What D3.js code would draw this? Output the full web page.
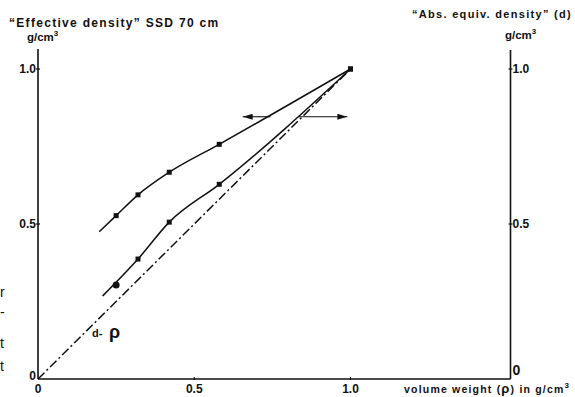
<!DOCTYPE html>
<html>
<head>
<meta charset="utf-8">
<script src="https://cdn.jsdelivr.net/npm/d3@7"></script>
<style>
  body { margin: 0; background: #fff; }
  svg { display: block; }
  text { font-family: "Liberation Sans", Arial, sans-serif; fill: #111; }
</style>
</head>
<body>
<div id="root"></div>
<script>
const w = 575;
const h = 397;

// volume weight (rho), g/cm3
const volumeWeight = [0.25, 0.32, 0.42, 0.58, 1.0];
// "Effective density" SSD 70 cm
const effectiveDensity = [0.527, 0.594, 0.667, 0.757, 1.0];
// "Abs. equiv. density" (d)
const absEquivDensity = [0.303, 0.387, 0.506, 0.628, 1.0];
// where each drawn curve begins (below the first point)
const effectiveStart = [0.196, 0.475];
const absEquivStart = [0.207, 0.268];
// d = rho reference line
const identityLine = [[0, 0], [1, 1]];
// arrows pointing to the two axes
const arrowLevel = 0.846;
const arrowLeft = [0.744, 0.655];
const arrowRight = [0.834, 0.99];

const xTicks = [0, 0.5, 1.0];
const yTicks = [0, 0.5, 1.0];

const x0 = 38, x1 = 350.5;
const yBottom = 379, yTop = 69;
const rightAxisX = 510.5;

const svg = d3.select("#root").append("svg").attr("width", w).attr("height", h);

const xScale = d3.scaleLinear().domain([0, 1]).range([x0, x1]);
const yScale = d3.scaleLinear().domain([0, 1]).range([yBottom, yTop]);

const ink = "#111";

// axes lines
svg.append("line")
  .attr("x1", x0).attr("x2", rightAxisX)
  .attr("y1", yBottom).attr("y2", yBottom)
  .attr("stroke", ink).attr("stroke-width", 1.6);
svg.append("line")
  .attr("x1", x0).attr("x2", x0)
  .attr("y1", 49).attr("y2", yBottom)
  .attr("stroke", ink).attr("stroke-width", 1.6);
svg.append("line")
  .attr("x1", rightAxisX).attr("x2", rightAxisX)
  .attr("y1", 50).attr("y2", yBottom)
  .attr("stroke", ink).attr("stroke-width", 1.6);

// ticks
const tickG = svg.append("g").attr("stroke", ink).attr("stroke-width", 1.2);
xTicks.slice(1).forEach((t) => {
  tickG.append("line")
    .attr("x1", xScale(t)).attr("x2", xScale(t))
    .attr("y1", yBottom - 2).attr("y2", yBottom + 1);
});
yTicks.slice(1).forEach((t) => {
  tickG.append("line")
    .attr("x1", x0 - 2).attr("x2", x0 + 2)
    .attr("y1", yScale(t)).attr("y2", yScale(t));
  tickG.append("line")
    .attr("x1", rightAxisX - 2).attr("x2", rightAxisX + 2)
    .attr("y1", yScale(t)).attr("y2", yScale(t));
});

// tick labels
const fmt = (d) => (d === 0 ? "0" : d3.format(".1f")(d));
svg.append("g").selectAll("text")
  .data(xTicks)
  .join("text")
  .attr("x", (d) => xScale(d))
  .attr("y", yBottom + 14)
  .attr("text-anchor", "middle")
  .attr("font-size", 12)
  .attr("font-weight", "bold")
  .text(fmt);

svg.append("g").selectAll("text")
  .data(yTicks)
  .join("text")
  .attr("x", x0 - 2)
  .attr("y", (d) => (d === 0 ? yScale(d) + 1 : yScale(d) + 4))
  .attr("text-anchor", "end")
  .attr("font-size", 12)
  .attr("font-weight", "bold")
  .text(fmt);

svg.append("g").selectAll("text")
  .data(yTicks)
  .join("text")
  .attr("x", rightAxisX + 2)
  .attr("y", (d) => (d === 0 ? yScale(d) - 4 : yScale(d) + 4))
  .attr("font-size", (d) => (d === 0 ? 14 : 12))
  .attr("font-weight", "bold")
  .text(fmt);

// titles
svg.append("text")
  .attr("x", 9).attr("y", 27)
  .attr("font-size", 12).attr("font-weight", "bold")
  .attr("letter-spacing", 1.3)
  .text("\u201CEffective density\u201D SSD 70 cm");
svg.append("text")
  .attr("x", 27).attr("y", 41)
  .attr("font-size", 11.5).attr("font-weight", "bold")
  .html('g/cm<tspan dy="-5" font-size="8">3</tspan>');

svg.append("text")
  .attr("x", 412).attr("y", 18)
  .attr("font-size", 11).attr("font-weight", "bold")
  .attr("letter-spacing", 1.3)
  .text("\u201CAbs. equiv. density\u201D (d)");
svg.append("text")
  .attr("x", 505).attr("y", 39)
  .attr("font-size", 11.5).attr("font-weight", "bold")
  .html('g/cm<tspan dy="-5" font-size="8">3</tspan>');

svg.append("text")
  .attr("x", 404).attr("y", 393)
  .attr("font-size", 10.5).attr("font-weight", "bold")
  .attr("letter-spacing", 1.2)
  .html('volume weight (<tspan font-size="13">\u03C1</tspan>) in g/cm<tspan dy="-5" font-size="8">3</tspan>');

// identity line d = rho
const line = d3.line().x((d) => xScale(d[0])).y((d) => yScale(d[1]));
svg.append("path")
  .attr("d", line(identityLine))
  .attr("fill", "none")
  .attr("stroke", ink)
  .attr("stroke-width", 1.5)
  .attr("stroke-dasharray", "9,3,2,3");

svg.append("text")
  .attr("x", 92).attr("y", 337)
  .attr("font-size", 11).attr("font-weight", "bold")
  .text("d-");
svg.append("text")
  .attr("x", 109).attr("y", 338)
  .attr("font-size", 18).attr("font-weight", "bold")
  .attr("font-family", "DejaVu Serif, serif")
  .text("\u03C1");

// curves
const curve = d3.line()
  .x((d) => xScale(d[0]))
  .y((d) => yScale(d[1]))
  .curve(d3.curveMonotoneX);

const effPts = volumeWeight.map((v, i) => [v, effectiveDensity[i]]);
const absPts = volumeWeight.map((v, i) => [v, absEquivDensity[i]]);

svg.append("path")
  .attr("d", curve([effectiveStart, ...effPts]))
  .attr("fill", "none").attr("stroke", ink).attr("stroke-width", 1.5);
// the drawn lower curve passes just above its first (round) point
svg.append("path")
  .attr("d", curve([absEquivStart, ...absPts.slice(1)]))
  .attr("fill", "none").attr("stroke", ink).attr("stroke-width", 1.5);

// markers
const allPts = [
  ...effPts.map((p) => ({ p, round: false })),
  ...absPts.slice(1).map((p) => ({ p, round: false })),
  { p: absPts[0], round: true },
];
svg.append("g").selectAll("rect")
  .data(allPts.filter((d) => !d.round))
  .join("rect")
  .attr("x", (d) => xScale(d.p[0]) - 2.5)
  .attr("y", (d) => yScale(d.p[1]) - 2.5)
  .attr("width", 5).attr("height", 5)
  .attr("fill", ink);
svg.append("g").selectAll("circle")
  .data(allPts.filter((d) => d.round))
  .join("circle")
  .attr("cx", (d) => xScale(d.p[0]))
  .attr("cy", (d) => yScale(d.p[1]))
  .attr("r", 3.5)
  .attr("fill", ink);

// arrows
const defs = svg.append("defs");
defs.append("marker")
  .attr("id", "arrow")
  .attr("viewBox", "0 0 10 6")
  .attr("refX", 10).attr("refY", 3)
  .attr("markerWidth", 10).attr("markerHeight", 6)
  .attr("markerUnits", "userSpaceOnUse")
  .attr("orient", "auto")
  .append("path")
  .attr("d", "M0,0 L10,3 L0,6 Z")
  .attr("fill", ink);

[arrowLeft, arrowRight].forEach((a) => {
  svg.append("line")
    .attr("x1", xScale(a[0])).attr("x2", xScale(a[1]))
    .attr("y1", yScale(arrowLevel)).attr("y2", yScale(arrowLevel))
    .attr("stroke", ink).attr("stroke-width", 1.1)
    .attr("marker-end", "url(#arrow)");
});

// stray letters from the neighbouring page column
const stray = [["r", 297], ["-", 317], ["t", 348], ["t", 371]];
svg.append("g").selectAll("text")
  .data(stray)
  .join("text")
  .attr("x", 0)
  .attr("y", (d) => d[1])
  .attr("font-family", "Liberation Serif, serif")
  .attr("font-size", 14)
  .text((d) => d[0]);
</script>
</body>
</html>
